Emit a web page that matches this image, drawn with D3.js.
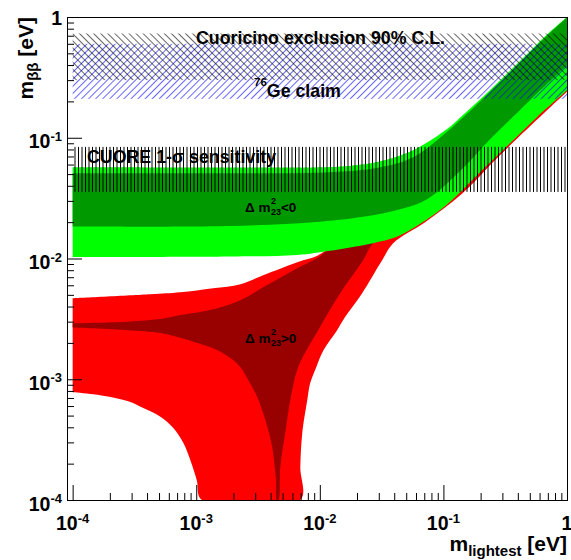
<!DOCTYPE html>
<html><head><meta charset="utf-8">
<script src="https://cdn.jsdelivr.net/npm/d3@7"></script>
<style>
html,body{margin:0;padding:0;background:#fff;}
svg{display:block;}
text{font-family:"Liberation Sans",Arial,Helvetica,sans-serif;font-weight:bold;fill:#000;white-space:pre;}
</style></head><body>
<svg id="chart" width="571" height="560"></svg>
<script>
// ---------------- data ----------------
// Inverted hierarchy (Δm²23<0): outer (light green) band
const ihOuterUpperM = [1e-4, 1.89e-3, 1.21e-2, 1.93e-2, 3.08e-2, 5.69e-2, 0.107, 0.144, 0.198, 0.272, 0.366, 0.502, 0.689, 1.0];
const ihOuterUpperV = [0.0570, 0.0568, 0.0572, 0.0592, 0.0639, 0.0788, 0.118, 0.154, 0.207, 0.283, 0.380, 0.520, 0.715, 1.0];
const ihOuterLowerM = [1e-4, 1.89e-3, 6.56e-3, 1.21e-2, 2.24e-2, 3.08e-2, 4.47e-2, 7.8e-2, 0.117, 0.198, 0.346, 0.571, 1.0];
const ihOuterLowerV = [0.0103, 0.0104, 0.0107, 0.0116, 0.0129, 0.0138, 0.0156, 0.0220, 0.0304, 0.0518, 0.090, 0.148, 0.247];
// Inverted hierarchy: best-fit (dark green) band
const ihBestUpperM = [1e-4, 1.89e-3, 1.21e-2, 3.08e-2, 5.69e-2, 0.107, 0.144, 0.198, 0.272, 0.366, 0.502, 0.689, 1.0];
const ihBestUpperV = [0.0508, 0.0508, 0.0518, 0.0570, 0.0690, 0.112, 0.147, 0.200, 0.275, 0.370, 0.510, 0.700, 0.99];
const ihBestLowerM = [1e-4, 1.89e-3, 8.85e-3, 2.24e-2, 4.47e-2, 7.38e-2, 0.144, 0.238, 0.417, 0.571, 1.0];
const ihBestLowerV = [0.0184, 0.0186, 0.0200, 0.0222, 0.0256, 0.0310, 0.0560, 0.097, 0.170, 0.232, 0.400];
// Normal hierarchy (Δm²23>0): outer (red) band
const nhOuterUpperM = [1e-4, 4.26e-4, 7.43e-4, 1.37e-3, 2.28e-3, 3.48e-3, 6.56e-3, 1.01e-2, 2.12e-2, 4.47e-2, 0.113, 0.287, 1.0];
const nhOuterUpperV = [0.00469, 0.00506, 0.00526, 0.00568, 0.00613, 0.00727, 0.00932, 0.0109, 0.022, 0.045, 0.113, 0.287, 0.99];
const nhOuterLowerM = [1e-4, 1.47e-4, 2.77e-4, 3.73e-4, 5.13e-4, 6.53e-4, 7.87e-4, 8.95e-4, 1.01e-3, 1.11e-3, 6.95e-3, 6.95e-3, 7.21e-3, 7.91e-3, 8.36e-3, 9.35e-3, 1.07e-2, 1.38e-2, 1.6e-2, 2.2e-2, 3.19e-2, 3.92e-2, 7.11e-2, 0.142, 0.272, 0.652, 1.0];
const nhOuterLowerV = [0.00078, 0.00075, 0.00066, 0.000577, 0.000489, 0.000394, 0.000296, 0.000214, 0.000146, 1e-4, 1e-4, 0.000188, 0.000358, 0.000671, 0.000929, 0.00126, 0.00174, 0.00255, 0.00327, 0.00516, 0.00968, 0.0134, 0.0200, 0.0345, 0.068, 0.160, 0.240];
// Normal hierarchy: best-fit (dark red) band
const nhBestUpperM = [1e-4, 2.77e-4, 5.13e-4, 7.43e-4, 9.48e-4, 1.48e-3, 2.28e-3, 3.48e-3, 6.56e-3, 1.01e-2, 2.12e-2, 4.47e-2, 0.113, 0.287, 1.0];
const nhBestUpperV = [0.00291, 0.00300, 0.00315, 0.00340, 0.00353, 0.00388, 0.00451, 0.00578, 0.00831, 0.0105, 0.021, 0.044, 0.11, 0.28, 0.97];
const nhBestLowerM = [1e-4, 2.77e-4, 5.13e-4, 9.48e-4, 1.48e-3, 1.89e-3, 2.28e-3, 2.59e-3, 3.12e-3, 3.48e-3, 3.83e-3, 4.12e-3, 4.28e-3, 4.42e-3, 4.48e-3, 4.63e-3, 4.79e-3, 5.25e-3, 5.77e-3, 6.68e-3, 9.7e-3, 1.46e-2, 2.24e-2, 2.7e-2, 7.8e-2, 0.144, 0.238, 0.417, 1.0];
const nhBestLowerV = [0.00268, 0.00255, 0.00241, 0.00204, 0.00174, 0.00150, 0.00126, 0.00102, 0.000711, 0.000524, 0.000379, 0.000274, 0.000202, 0.000146, 1e-4, 1e-4, 0.000188, 0.000358, 0.000671, 0.00126, 0.00255, 0.00516, 0.00968, 0.0134, 0.030, 0.058, 0.097, 0.17, 0.41];
// Experimental regions (m_ββ ranges, eV) and their m_lightest span
const cuoricinoRange = [0.30, 0.73];
const geClaimRange = [0.21, 0.60];
const cuoreRange = [0.0356, 0.084];
const hatchSpan = [1e-4, 1];
// Axis ticks
const xMajor = [1e-4, 1e-3, 1e-2, 1e-1, 1];
const yMajor = [1e-4, 1e-3, 1e-2, 1e-1, 1];
const xTickLabels = [["10","-4"],["10","-3"],["10","-2"],["10","-1"],["1",""]];
const yTickLabels = [["10","-4"],["10","-3"],["10","-2"],["10","-1"],["1",""]];

// ---------------- layout ----------------
const plot = {left:67, right:567, top:17, bottom:500};
const x = d3.scaleLog().domain([9e-5, 1]).range([plot.left, plot.right]);
const y = d3.scaleLog().domain([1e-4, 1]).range([plot.bottom, plot.top]);
const svg = d3.select("#chart");
svg.append("rect").attr("width",571).attr("height",560).attr("fill","#fff");
const defs = svg.append("defs");
defs.append("clipPath").attr("id","clip").append("rect")
  .attr("x",plot.left).attr("y",plot.top).attr("width",plot.right-plot.left).attr("height",plot.bottom-plot.top);

function hatch(id, spacing, angle, color, width){
  const p = defs.append("pattern").attr("id",id).attr("patternUnits","userSpaceOnUse")
    .attr("width",spacing).attr("height",20).attr("patternTransform",`rotate(${angle})`);
  p.append("line").attr("x1",spacing/2).attr("x2",spacing/2).attr("y1",-2).attr("y2",22)
    .attr("stroke",color).attr("stroke-width",width);
}
hatch("hCuoricino", 5, -45, "#000", 0.6);
hatch("hGe", 5, 45, "#0000ff", 0.6);
// CUORE: vertical lines, alternating crisp / soft like the reference
const pc = defs.append("pattern").attr("id","hCuore").attr("patternUnits","userSpaceOnUse").attr("width",7).attr("height",20);
pc.append("line").attr("x1",1.5).attr("x2",1.5).attr("y1",-2).attr("y2",22).attr("stroke","#000").attr("stroke-width",1);
pc.append("line").attr("x1",5).attr("x2",5).attr("y1",-2).attr("y2",22).attr("stroke","#000").attr("stroke-width",1);

const zip = (ms,vs)=>ms.map((m,i)=>[m,vs[i]]);
const line = d3.line().x(d=>x(d[0])).y(d=>y(d[1])).curve(d3.curveCatmullRom.alpha(0.5));
function bandPath(upM,upV,loM,loV){
  const up = zip(upM,upV), lo = zip(loM,loV).reverse();
  return line(up) + line(lo).replace(/^M/,"L") + "Z";
}

const g = svg.append("g").attr("clip-path","url(#clip)");
g.append("path").attr("d", bandPath(nhOuterUpperM,nhOuterUpperV,nhOuterLowerM,nhOuterLowerV)).attr("fill","#ff0000");
g.append("path").attr("d", bandPath(nhBestUpperM,nhBestUpperV,nhBestLowerM,nhBestLowerV)).attr("fill","#990000");
g.append("path").attr("d", bandPath(ihOuterUpperM,ihOuterUpperV,ihOuterLowerM,ihOuterLowerV)).attr("fill","#00ff00");
g.append("path").attr("d", bandPath(ihBestUpperM,ihBestUpperV,ihBestLowerM,ihBestLowerV)).attr("fill","#009900");

function hatchRect(range, pat){
  g.append("rect").attr("x", x(hatchSpan[0])).attr("width", x(hatchSpan[1]) - x(hatchSpan[0]))
    .attr("y", y(range[1])).attr("height", y(range[0]) - y(range[1])).attr("fill", `url(#${pat})`);
}
hatchRect(geClaimRange, "hGe");
hatchRect(cuoricinoRange, "hCuoricino");
hatchRect(cuoreRange, "hCuore");

// ---------------- rich text helper ----------------
function rich(pieces, o){
  const grp = svg.append("g").attr("transform",`translate(${o.x},${o.y}) rotate(${o.rotate||0})`);
  let cx = 0, stackStart = 0; const nodes = [];
  pieces.forEach(p=>{
    const t = grp.append("text").attr("font-size",p.size).attr("y",p.dy||0).text(p.t);
    if (p.weight) t.attr("font-weight",p.weight);
    const w = t.node().getComputedTextLength();
    if (p.stack){ t.attr("x",stackStart); cx = Math.max(cx, stackStart+w); }
    else { stackStart = cx; t.attr("x",cx); cx += w + (p.gap||0); }
    nodes.push(t);
  });
  const shift = o.anchor==="end" ? -cx : o.anchor==="middle" ? -cx/2 : 0;
  nodes.forEach(n=>n.attr("x", +n.attr("x") + shift));
  return grp;
}

// labels inside the plot
rich([{t:"Cuoricino exclusion 90% C.L.", size:17.8}], {x:196, y:44});
rich([{t:"76", size:11.5, dy:-11},{t:"Ge claim", size:17.8}], {x:254, y:96.5});
rich([{t:"CUORE 1-", size:17.8},{t:"σ", size:17.8, weight:"normal"},{t:" sensitivity", size:17.8}], {x:87, y:162.7});
rich([{t:"Δ m", size:13.5, gap:0.5},{t:"2", size:9, dy:-7.5},{t:"23", size:9, dy:3.5, stack:true},{t:"<0", size:13.5}], {x:245, y:211.5});
rich([{t:"Δ m", size:13.5, gap:0.5},{t:"2", size:9, dy:-7.5},{t:"23", size:9, dy:3.5, stack:true},{t:">0", size:13.5}], {x:245, y:342.7});

// ---------------- axes ----------------
const xMinor = x.ticks().filter(v=>!xMajor.some(m=>Math.abs(m-v)/m<1e-6));
const yMinor = y.ticks().filter(v=>!yMajor.some(m=>Math.abs(m-v)/m<1e-6));
const axB = svg.append("g").attr("transform",`translate(0,${plot.bottom})`);
axB.append("g").call(d3.axisBottom(x).tickValues(xMinor).tickSize(-7).tickSizeOuter(0).tickFormat(""));
axB.append("g").call(d3.axisBottom(x).tickValues(xMajor).tickSize(-15).tickSizeOuter(0).tickFormat(""));
const axL = svg.append("g").attr("transform",`translate(${plot.left},0)`);
axL.append("g").call(d3.axisLeft(y).tickValues(yMinor).tickSize(-7).tickSizeOuter(0).tickFormat(""));
axL.append("g").call(d3.axisLeft(y).tickValues(yMajor).tickSize(-15).tickSizeOuter(0).tickFormat(""));
svg.selectAll(".domain").remove();
svg.selectAll(".tick line").attr("stroke","#000");

svg.append("rect").attr("x",plot.left).attr("y",plot.top).attr("width",plot.right-plot.left)
  .attr("height",plot.bottom-plot.top).attr("fill","none").attr("stroke","#000").attr("stroke-width",1)
  .attr("shape-rendering","crispEdges");

xMajor.forEach((v,i)=>{
  const [b,e] = xTickLabels[i];
  const parts = [{t:b, size:19.5}]; if (e) parts.push({t:e, size:13, dy:-7.5});
  rich(parts, {x:x(v), y:530, anchor:"middle"});
});
yMajor.forEach((v,i)=>{
  const [b,e] = yTickLabels[i];
  const parts = [{t:b, size:19.5}]; if (e) parts.push({t:e, size:13, dy:-7.5});
  rich(parts, {x:62, y:y(v) + (e ? 10.5 : 8), anchor:"end"});
});

// axis titles
rich([{t:"m", size:21},{t:"lightest", size:15, dy:5},{t:" [eV]", size:21}], {x:567, y:551, anchor:"end"});
rich([{t:"m", size:21},{t:"ββ", size:15, dy:5},{t:" [eV]", size:21}], {x:33, y:17, anchor:"end", rotate:-90});
</script></body></html>
